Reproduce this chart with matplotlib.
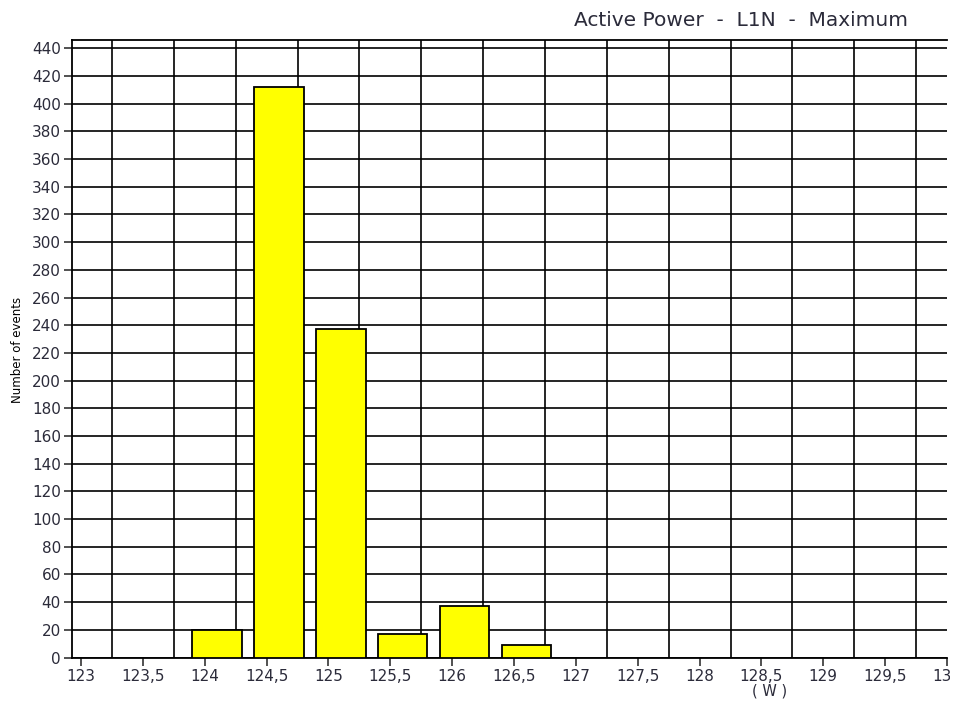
import matplotlib
matplotlib.use('Agg')
import matplotlib.pyplot as plt
from matplotlib.transforms import Bbox, TransformedBbox
import numpy as np

# histogram bins (W) and counts
bins = [124.0, 124.5, 125.0, 125.5, 126.0, 126.5]
counts = [20, 412, 237, 17, 37, 9]

xticks = np.arange(123.0, 130.01, 0.5)
xlabels = [('%g' % v).replace('.', ',') for v in xticks]
yticks = list(range(0, 441, 20))

txt = '#2b2b3a'

fig = plt.figure(figsize=(9.65, 7.03), dpi=100)
ax = fig.add_axes([72/965, 1 - 657.5/703, (947 - 72)/965, (657.5 - 40)/703])

# bars drawn from value-0.1 with width 0.4 like the original tool
ax.bar([b - 0.1 for b in bins], counts, width=0.4, align='edge',
       color='#ffff00', edgecolor='black', linewidth=1.3, zorder=3)

ax.set_xlim(122.927, 130.0)
ax.set_ylim(0, 446)

ax.set_xticks(xticks)
ax.set_xticklabels(xlabels)
ax.set_xticks(np.arange(123.25, 130, 0.5), minor=True)
ax.set_yticks(yticks)

ax.grid(False)
ax.xaxis.grid(True, which='minor', color='black', linewidth=1.2, zorder=1)
ax.yaxis.grid(True, which='major', color='black', linewidth=1.2, zorder=1)
ax.set_axisbelow(True)

ax.tick_params(axis='both', which='major', direction='out', length=6, width=1.2,
               color='#333333', labelsize=11, labelcolor=txt, pad=2)
ax.tick_params(axis='x', which='minor', length=0)

ax.spines['right'].set_visible(False)
for s in ['left', 'top', 'bottom']:
    ax.spines[s].set_linewidth(1.3)
    ax.spines[s].set_color('black')

# the last label is cut at the edge of the chart, as in the original
clip = TransformedBbox(Bbox([[0, 0], [950/965, 1]]), fig.transFigure)
for lab in ax.get_xticklabels():
    lab.set_clip_box(clip)
    lab.set_clip_on(True)

fig.text(908/965, 1 - 20/703, 'Active Power  -  L1N  -  Maximum', ha='right', va='center',
         fontsize=14.5, color=txt)
fig.text(770/965, 1 - 691/703, '( W )', ha='center', va='center', fontsize=10.5, color=txt)
fig.text(18/965, 1 - 350/703, 'Number of events', rotation=90, ha='center', va='center',
         fontsize=8.5, color='black', family='Liberation Sans Narrow')

fig.savefig('out.png', dpi=100)
